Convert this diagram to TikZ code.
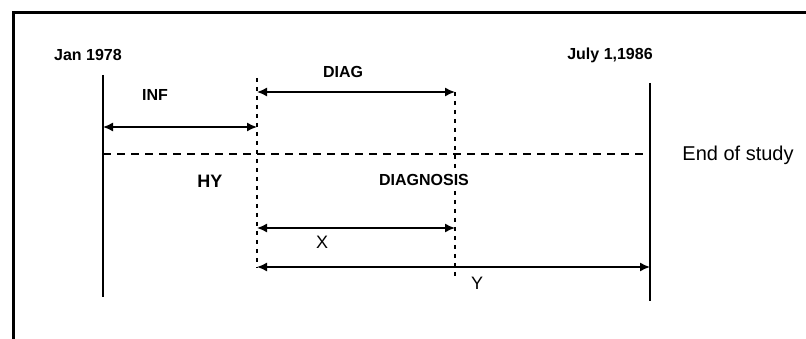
\documentclass[tikz,border=0pt]{standalone}
\usepackage{fontspec}
\setmainfont{Liberation Sans}
\usetikzlibrary{arrows.meta}
\begin{document}
\begin{tikzpicture}[x=1pt,y=-1pt,
  lbl/.style={inner sep=0pt, font=\fontsize{16}{16}\selectfont\bfseries},
  hylbl/.style={inner sep=0pt, font=\fontsize{18}{18}\selectfont\bfseries},
  xylbl/.style={inner sep=0pt, font=\fontsize{18}{18}\selectfont},
  endlbl/.style={inner sep=0pt, font=\fontsize{20}{20}\selectfont},
  solidbar/.style={line width=2.2pt},
  dimarrow/.style={line width=1.5pt, {Latex[length=10pt,width=9pt]}-{Latex[length=10pt,width=9pt]}},
  dashv/.style={line width=1.4pt, dash pattern=on 4pt off 5pt},
  dashh/.style={line width=1.3pt, dash pattern=on 8pt off 6pt}]
\useasboundingbox (0,0) rectangle (806,339);
% frame (top and left edges)
\coordinate (fbl) at (13,339);
\coordinate (ftl) at (13,13);
\coordinate (ftr) at (806,13);
\draw[line width=3pt] (fbl) -- (ftl) -- (ftr);
% end points
\coordinate (Ltop) at (103,75);   \coordinate (Lbot) at (103,297);
\coordinate (Rtop) at (650,83);   \coordinate (Rbot) at (650,301);
\coordinate (D1top) at (257,78);  \coordinate (D1bot) at (257,268);
\coordinate (D2top) at (455,92);  \coordinate (D2bot) at (455,276);
\coordinate (Hl) at (103,154);    \coordinate (Hr) at (650,154);
\coordinate (INFl) at (103,127);  \coordinate (INFr) at (257,127);
\coordinate (DGl) at (257,92);    \coordinate (DGr) at (455,92);
\coordinate (Xl) at (257,228);    \coordinate (Xr) at (455,228);
\coordinate (Yl) at (257,267);    \coordinate (Yr) at (650,267);
% solid bars
\draw[solidbar] (Ltop) -- (Lbot);
\draw[solidbar] (Rtop) -- (Rbot);
% dashed lines
\draw[dashv] (D1top) -- (D1bot);
\draw[dashv] (D2top) -- (D2bot);
\draw[dashh] (Hl) -- (Hr);
% arrows
\draw[dimarrow] (INFl) -- (INFr);
\draw[dimarrow] (DGl) -- (DGr);
\draw[dimarrow] (Xl) -- (Xr);
\draw[dimarrow] (Yl) -- (Yr);
% labels
\node[lbl] (jan) at (88,55) {Jan 1978};
\node[lbl] (july) at (610,55) {July 1,1986};
\node[lbl] (inf) at (155,95) {INF};
\node[lbl] (diag) at (343,72) {DIAG};
\node[hylbl] (hy) at (210,181) {HY};
\node[lbl, fill=white, inner ysep=1pt] (diagnosis) at (424,180) {DIAGNOSIS};
\node[endlbl] (end) at (738,155) {End of study};
\node[xylbl] (xl) at (322,242) {X};
\node[xylbl] (yl) at (477,283) {Y};
\end{tikzpicture}
\end{document}
